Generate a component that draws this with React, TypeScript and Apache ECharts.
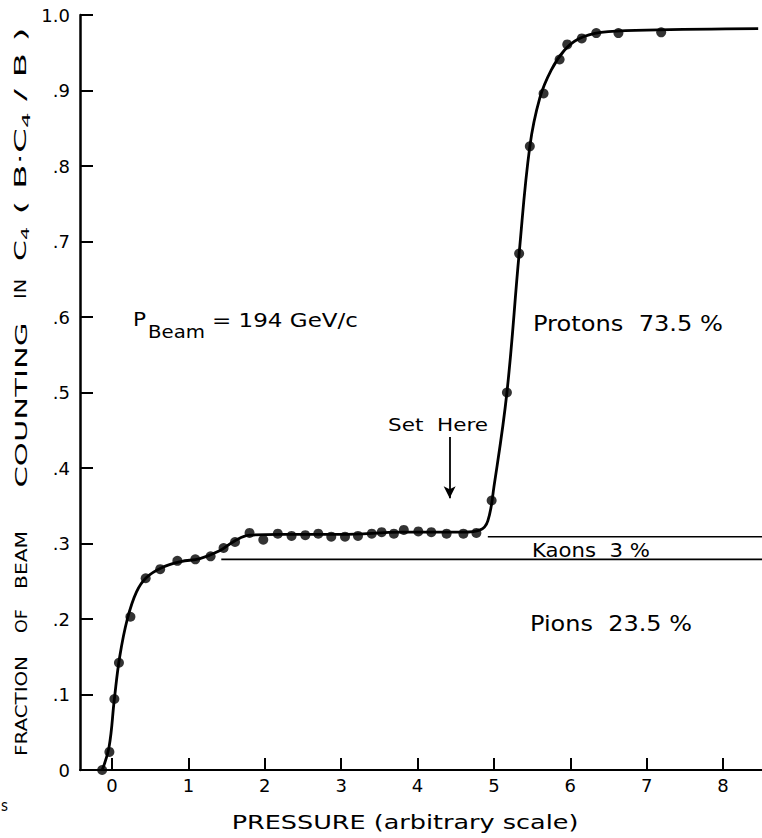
import React, { useEffect, useRef } from "react";
import * as echarts from "echarts";

// measured data points (pressure, fraction)
const pointX = [-0.13, -0.035, 0.03, 0.09, 0.24, 0.44, 0.63, 0.855, 1.09, 1.29, 1.46, 1.61, 1.8, 1.98, 2.17, 2.35, 2.53, 2.7, 2.87, 3.05, 3.22, 3.4, 3.53, 3.69, 3.82, 4.01, 4.18, 4.38, 4.6, 4.77, 4.97, 5.17, 5.33, 5.47, 5.65, 5.86, 5.96, 6.15, 6.34, 6.63, 7.19];
const pointY = [0, 0.024, 0.094, 0.142, 0.203, 0.254, 0.266, 0.277, 0.279, 0.283, 0.294, 0.302, 0.314, 0.305, 0.313, 0.31, 0.311, 0.313, 0.309, 0.309, 0.31, 0.313, 0.315, 0.313, 0.318, 0.316, 0.315, 0.313, 0.313, 0.314, 0.357, 0.5, 0.684, 0.826, 0.896, 0.941, 0.961, 0.969, 0.976, 0.976, 0.977];

// hand-drawn fitted curve
const curveX = [-0.13, -0.04, 0.03, 0.1, 0.2, 0.32, 0.45, 0.65, 0.9, 1.15, 1.4, 1.6, 1.8, 2.2, 3.0, 3.8, 4.6, 4.82, 4.92, 5.0, 5.17, 5.33, 5.47, 5.6, 5.75, 5.92, 6.1, 6.4, 7.0, 8.46];
const curveY = [0, 0.03, 0.094, 0.15, 0.2, 0.236, 0.255, 0.268, 0.276, 0.28, 0.29, 0.303, 0.311, 0.312, 0.312, 0.315, 0.315, 0.318, 0.33, 0.375, 0.5, 0.684, 0.826, 0.89, 0.927, 0.953, 0.968, 0.977, 0.98, 0.982];

// region boundaries
const pionEdgeX = [1.43, 8.51];
const pionEdgeY = [0.279, 0.279];
const kaonEdgeX = [4.92, 8.51];
const kaonEdgeY = [0.309, 0.309];

// "Set Here" arrow
const arrowX = [4.42, 4.42];
const arrowY = [0.441, 0.36];

const xTickValues = [0, 1, 2, 3, 4, 5, 6, 7, 8];
const yTickLabels = ["0", ".1", ".2", ".3", ".4", ".5", ".6", ".7", ".8", ".9", "1.0"];

const FONT = "DejaVu Sans";

function measure(text: string, size: number): number {
  const c = document.createElement("canvas").getContext("2d");
  if (!c) return text.length * size * 0.6;
  c.font = `${size}px "${FONT}"`;
  return c.measureText(text).width;
}

const zip = (xs: number[], ys: number[]) => xs.map((x, i) => [x, ys[i]]);

type Ann = { text: string; left: number; cy: number; width: number; size: number };
const annotationLayout: Ann[] = [
  { text: "Protons  73.5 %", left: 533, cy: 323, width: 190, size: 22 },
  { text: "Kaons  3 %", left: 532, cy: 550, width: 118, size: 19 },
  { text: "Pions  23.5 %", left: 530, cy: 623, width: 162, size: 22 },
  { text: "Set  Here", left: 388, cy: 425, width: 100, size: 18 },
  { text: "P", left: 133, cy: 319, width: 13, size: 20 },
  { text: "Beam", left: 148, cy: 332, width: 57, size: 17 },
  { text: "= 194 GeV/c", left: 212, cy: 320, width: 146, size: 20 },
  { text: "s", left: 1, cy: 806, width: 7, size: 15 },
];

type Word = { parts: { t: string; sub?: boolean }[]; cy: number; len: number };
const yNameLayout: Word[] = [
  { parts: [{ t: "FRACTION" }], cy: 706, len: 100 },
  { parts: [{ t: "OF" }], cy: 621, len: 24 },
  { parts: [{ t: "BEAM" }], cy: 560, len: 58 },
  { parts: [{ t: "COUNTING" }], cy: 405, len: 165 },
  { parts: [{ t: "IN" }], cy: 289, len: 20 },
  { parts: [{ t: "C" }, { t: "4", sub: true }], cy: 244, len: 34 },
  { parts: [{ t: "( B·C" }, { t: "4", sub: true }, { t: " / B )" }], cy: 121, len: 187 },
];

export default function App() {
  const ref = useRef<HTMLDivElement>(null);
  useEffect(() => {
    if (!ref.current) return;
    const chart = echarts.init(ref.current, null, { renderer: "svg" });

    const graphic: any[] = [];
    annotationLayout.forEach((a) => {
      const w = measure(a.text, a.size);
      graphic.push({
        type: "text",
        x: a.left,
        y: a.cy,
        scaleX: a.width / w,
        style: {
          text: a.text,
          fontSize: a.size,
          fontFamily: FONT,
          fill: "#000",
          align: "left",
          verticalAlign: "middle",
        },
        z: 10,
      });
    });

    const mainSize = 16;
    const subSize = 11;
    yNameLayout.forEach((wd) => {
      let w = 0;
      const hasSub = wd.parts.some((p) => p.sub);
      let txt = "";
      wd.parts.forEach((p) => {
        w += measure(p.t, p.sub ? subSize : mainSize);
        txt += hasSub ? (p.sub ? `{s|${p.t}}` : `{n|${p.t}}`) : p.t;
      });
      const style: any = {
        text: txt,
        fontFamily: FONT,
        fontSize: mainSize,
        fill: "#000",
        align: "center",
        verticalAlign: "middle",
      };
      if (hasSub) {
        style.rich = {
          n: { fontSize: mainSize, fontFamily: FONT, lineHeight: 20, fill: "#000" },
          s: { fontSize: subSize, fontFamily: FONT, lineHeight: 11, padding: [9, 0, 0, 0], fill: "#000" },
        };
      }
      graphic.push({
        type: "text",
        x: 21,
        y: wd.cy,
        rotation: Math.PI / 2,
        scaleX: wd.len / w,
        style,
        z: 10,
      });
    });

    const xName = "PRESSURE (arbitrary scale)";
    const xNameSize = 19;
    graphic.push({
      type: "text",
      x: 405,
      y: 822,
      scaleX: 347 / measure(xName, xNameSize),
      style: {
        text: xName,
        fontSize: xNameSize,
        fontFamily: FONT,
        fill: "#000",
        align: "center",
        verticalAlign: "middle",
      },
    });

    chart.setOption({
      animation: false,
      backgroundColor: "#fff",
      grid: { left: 80, right: 0, top: 15, bottom: 68 },
      xAxis: {
        type: "value",
        min: -0.42,
        max: 8.51,
        axisLine: { onZero: false, lineStyle: { color: "#000", width: 2 } },
        axisTick: { show: true, inside: true, length: 12, customValues: xTickValues, lineStyle: { color: "#000", width: 2 } },
        axisLabel: { customValues: xTickValues, color: "#000", fontSize: 18, fontFamily: FONT, margin: 6 },
        splitLine: { show: false },
      },
      yAxis: {
        type: "value",
        min: 0,
        max: 1,
        interval: 0.1,
        axisLine: { show: true, onZero: false, lineStyle: { color: "#000", width: 2.5 } },
        axisTick: { show: true, inside: true, length: 13, lineStyle: { color: "#000", width: 2 } },
        axisLabel: {
          color: "#000",
          fontSize: 18,
          fontFamily: FONT,
          margin: 10,
          formatter: (v: number) => yTickLabels[Math.round(v * 10)] ?? "",
        },
        splitLine: { show: false },
      },
      graphic,
      series: [
        {
          type: "line",
          data: zip(curveX, curveY),
          showSymbol: false,
          smooth: 0.4,
          lineStyle: { color: "#000", width: 2.8 },
          silent: true,
          z: 3,
        },
        {
          type: "scatter",
          data: zip(pointX, pointY),
          symbol: "circle",
          symbolSize: 10,
          itemStyle: { color: "#000" },
          silent: true,
          z: 4,
        },
        {
          type: "line",
          data: zip(pionEdgeX, pionEdgeY),
          showSymbol: false,
          lineStyle: { color: "#000", width: 1.6 },
          silent: true,
          z: 2,
        },
        {
          type: "line",
          data: zip(kaonEdgeX, kaonEdgeY),
          showSymbol: false,
          lineStyle: { color: "#000", width: 1.6 },
          silent: true,
          z: 2,
          markLine: {
            silent: true,
            symbol: ["none", "arrow"],
            symbolSize: [9, 12],
            label: { show: false },
            lineStyle: { color: "#000", width: 1.8, type: "solid" },
            data: [[{ coord: [arrowX[0], arrowY[0]] }, { coord: [arrowX[1], arrowY[1]] }]],
          },
        },
      ],
    });
    return () => chart.dispose();
  }, []);
  return <div ref={ref} style={{ position: "fixed", left: 0, top: 0, width: 762, height: 838 }} />;
}
